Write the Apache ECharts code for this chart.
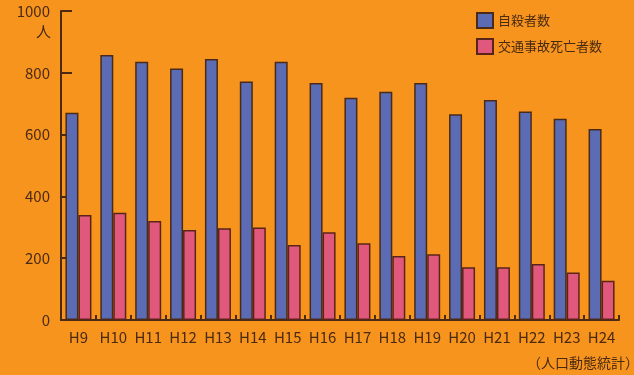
<!DOCTYPE html>
<html>
<head>
<meta charset="utf-8">
<script src="https://cdn.jsdelivr.net/npm/echarts@6/dist/echarts.min.js"></script>
<style>
  html, body { margin: 0; padding: 0; background: #f7941d; }
  #chart { width: 634px; height: 375px; }
</style>
</head>
<body>
<div id="chart"></div>
<script>
// 年度（平成）
const years = ['H9', 'H10', 'H11', 'H12', 'H13', 'H14', 'H15', 'H16', 'H17', 'H18', 'H19', 'H20', 'H21', 'H22', 'H23', 'H24'];
// 自殺者数（人）
const suicides = [671, 858, 836, 814, 845, 772, 836, 767, 719, 739, 767, 666, 712, 675, 651, 618];
// 交通事故死亡者数（人）
const trafficDeaths = [340, 347, 320, 291, 297, 299, 243, 284, 248, 207, 213, 171, 171, 181, 154, 127];
// 縦軸の目盛り
const yTicks = [0, 200, 400, 600, 800, 1000];

const ink = '#4a2a12';
const font = '"Noto Sans CJK JP", "Noto Sans", sans-serif';

const chart = echarts.init(document.getElementById('chart'), null, { renderer: 'canvas' });
chart.setOption({
  backgroundColor: '#f7941d',
  animation: false,
  textStyle: { fontFamily: font, color: ink },
  grid: { left: 61, right: 15, top: 11, bottom: 55 },
  legend: {
    orient: 'vertical',
    left: 476,
    top: 12,
    padding: 0,
    icon: 'rect',
    itemWidth: 16,
    itemHeight: 15,
    itemGap: 9,
    textStyle: { fontFamily: font, fontSize: 13, color: ink },
    data: ['自殺者数', '交通事故死亡者数']
  },
  xAxis: {
    type: 'category',
    data: years,
    boundaryGap: true,
    axisLine: { lineStyle: { color: ink, width: 2 } },
    axisTick: { show: true, inside: true, length: 5, lineStyle: { color: ink, width: 2 } },
    axisLabel: { fontFamily: font, fontSize: 15, color: ink, margin: 10, interval: 0, hideOverlap: false }
  },
  yAxis: {
    type: 'value',
    min: yTicks[0],
    max: yTicks[yTicks.length - 1],
    interval: yTicks[1] - yTicks[0],
    splitLine: { show: false },
    axisLine: { show: true, lineStyle: { color: ink, width: 2 } },
    axisTick: { show: true, inside: true, length: 11, lineStyle: { color: ink, width: 2 } },
    axisLabel: { fontFamily: font, fontSize: 15, color: ink, margin: 11, formatter: v => String(v) }
  },
  series: [
    {
      name: '自殺者数',
      type: 'bar',
      data: suicides,
      barWidth: 13,
      barGap: '0%',
      itemStyle: { color: '#5b6bb4', borderColor: '#4a2a18', borderWidth: 1.5 }
    },
    {
      name: '交通事故死亡者数',
      type: 'bar',
      data: trafficDeaths,
      barWidth: 13,
      barGap: '0%',
      itemStyle: { color: '#e0587c', borderColor: '#5a2418', borderWidth: 1.5 }
    }
  ],
  graphic: [
    {
      type: 'text',
      left: 36,
      top: 24,
      style: { text: '人', fontFamily: font, fontSize: 15, fill: ink }
    },
    {
      type: 'text',
      left: 527,
      top: 356,
      style: { text: '（人口動態統計）', fontFamily: font, fontSize: 14, fill: ink }
    }
  ]
});
</script>
</body>
</html>
